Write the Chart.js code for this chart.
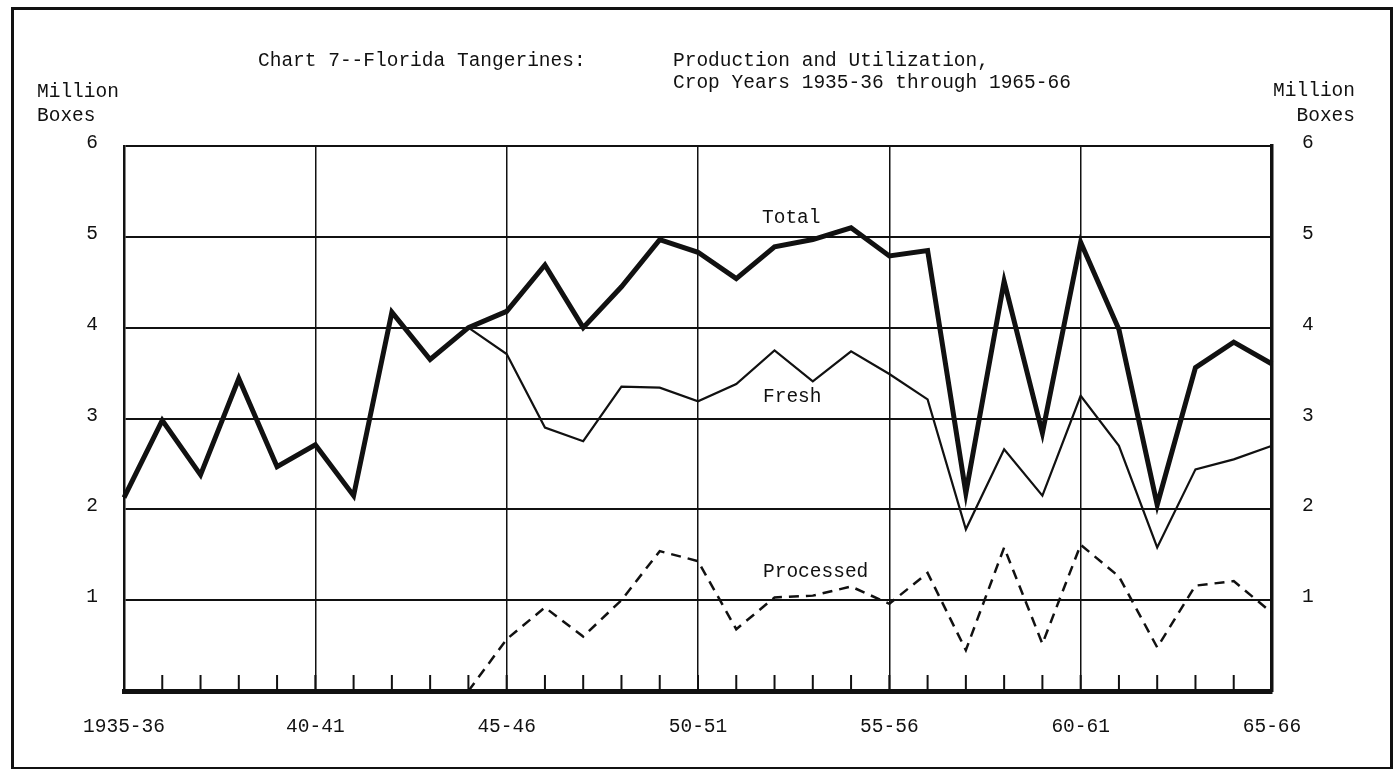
<!DOCTYPE html>
<html>
<head>
<meta charset="utf-8">
<title>Chart 7--Florida Tangerines</title>
<script src="https://cdn.jsdelivr.net/npm/chart.js@4.4.1/dist/chart.umd.min.js"></script>
<style>
  html, body { margin:0; padding:0; background:#fff; }
  #wrap { position:relative; width:1394px; height:770px; overflow:hidden; background:#fff; }
  #frame { position:absolute; left:11px; top:7px; width:1376px; height:757px; border:3px solid #111; border-bottom-width:2px; }
  .txt { position:absolute; font-family:"Liberation Mono", monospace; font-size:19.5px; color:#111; white-space:pre; line-height:1; }
  canvas { position:absolute; left:0; top:0; }
</style>
</head>
<body>
<div id="wrap">
  <div id="frame"></div>
  <canvas id="grafica" width="1394" height="770"></canvas>
  <div class="txt" style="left:258px;top:52px;">Chart 7--Florida Tangerines:</div>
  <div class="txt" style="left:673px;top:52px;">Production and Utilization,</div>
  <div class="txt" style="left:673px;top:74px;">Crop Years 1935-36 through 1965-66</div>
  <div class="txt" style="left:37px;top:83px;">Million</div>
  <div class="txt" style="left:37px;top:107px;">Boxes</div>
  <div class="txt" style="right:39px;top:82px;text-align:right;">Million</div>
  <div class="txt" style="right:39px;top:107px;text-align:right;">Boxes</div>
  <div class="txt" style="left:762px;top:209px;">Total</div>
  <div class="txt" style="left:763px;top:388px;">Fresh</div>
  <div class="txt" style="left:763px;top:563px;">Processed</div>
</div>
<script>
// crop years, one per point
const cropYears = [
  "1935-36","36-37","37-38","38-39","39-40","40-41","41-42","42-43","43-44","44-45",
  "45-46","46-47","47-48","48-49","49-50","50-51","51-52","52-53","53-54","54-55",
  "55-56","56-57","57-58","58-59","59-60","60-61","61-62","62-63","63-64","64-65","65-66"
];

// million boxes
const total = [2.13, 2.98, 2.38, 3.44, 2.47, 2.71, 2.15, 4.17, 3.65, 4.00,
               4.18, 4.69, 4.00, 4.45, 4.97, 4.83, 4.54, 4.89, 4.97, 5.10,
               4.79, 4.85, 2.18, 4.51, 2.84, 4.94, 3.98, 2.05, 3.56, 3.84, 3.60];
const fresh = [null, null, null, null, null, null, null, null, null, 4.00,
               3.71, 2.90, 2.75, 3.35, 3.34, 3.19, 3.38, 3.75, 3.41, 3.74,
               3.49, 3.21, 1.78, 2.66, 2.15, 3.25, 2.70, 1.58, 2.44, 2.55, 2.70];
const processed = [null, null, null, null, null, null, null, null, null, 0,
               0.57, 0.92, 0.60, 1.00, 1.54, 1.43, 0.68, 1.03, 1.05, 1.15,
               0.96, 1.30, 0.45, 1.58, 0.52, 1.61, 1.26, 0.48, 1.16, 1.21, 0.86];

const yTicks = [1, 2, 3, 4, 5, 6];

const INK = "#111";
const FONT = { family: "'Liberation Mono', monospace", size: 19.5 };
const plotLeft = 124, plotRight = 1272, plotTop = 146, plotBottom = 691;

// short year ticks standing up from the bottom axis
const marcasAnio = {
  id: "marcasAnio",
  afterDatasetsDraw(chart) {
    const { ctx, chartArea, scales: { x } } = chart;
    ctx.save();
    ctx.strokeStyle = INK;
    ctx.lineWidth = 2;
    cropYears.forEach((_, i) => {
      const px = x.getPixelForValue(i);
      ctx.beginPath();
      ctx.moveTo(px, chartArea.bottom);
      ctx.lineTo(px, chartArea.bottom - 16);
      ctx.stroke();
    });
    ctx.restore();
  }
};

new Chart(document.getElementById("grafica"), {
  type: "line",
  data: {
    labels: cropYears,
    datasets: [
      { label: "Total", data: total, borderColor: INK, borderWidth: 5, pointRadius: 0, tension: 0, fill: false, spanGaps: false },
      { label: "Fresh", data: fresh, borderColor: INK, borderWidth: 2.2, pointRadius: 0, tension: 0, fill: false },
      { label: "Processed", data: processed, borderColor: INK, borderWidth: 2.5, borderDash: [10, 7], pointRadius: 0, tension: 0, fill: false }
    ]
  },
  plugins: [marcasAnio],
  options: {
    responsive: false,
    animation: false,
    layout: { padding: { top: plotTop, left: 0, right: 0, bottom: 0 } },
    plugins: { legend: { display: false }, tooltip: { enabled: false } },
    scales: {
      x: {
        type: "category",
        grid: { color: ctx => ctx.index % 5 === 0 ? INK : "rgba(0,0,0,0)", lineWidth: 1.5, drawTicks: false },
        border: { color: INK, width: 5 },
        ticks: {
          autoSkip: false, maxRotation: 0, padding: 24, color: INK, font: FONT,
          callback: (v, i) => i % 5 === 0 ? cropYears[i] : ""
        },
        afterFit: s => { s.height = 770 - plotBottom; }
      },
      y: {
        position: "left", min: 0, max: 6,
        grid: { color: INK, lineWidth: 2, drawTicks: false },
        border: { color: INK, width: 2.5 },
        ticks: {
          stepSize: 1, padding: 26, color: INK, font: FONT, labelOffset: -3,
          callback: v => yTicks.includes(v) ? v : ""
        },
        afterFit: s => { s.width = plotLeft; }
      },
      y2: {
        position: "right", min: 0, max: 6,
        grid: { drawOnChartArea: false, drawTicks: false },
        border: { color: INK, width: 3.5 },
        ticks: {
          stepSize: 1, padding: 30, color: INK, font: FONT, labelOffset: -3,
          callback: v => yTicks.includes(v) ? v : ""
        },
        afterFit: s => { s.width = 1394 - plotRight; }
      }
    }
  }
});
</script>
</body>
</html>
